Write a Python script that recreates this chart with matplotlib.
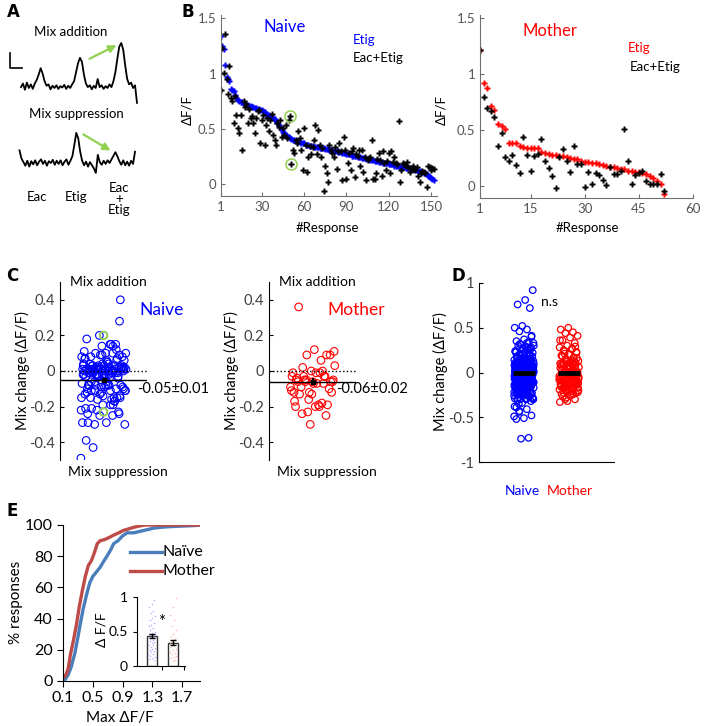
import matplotlib
matplotlib.use('Agg')
import matplotlib.pyplot as plt
from matplotlib.lines import Line2D

plt.rcParams['font.family'] = ['Lato', 'DejaVu Sans']
plt.rcParams['axes.unicode_minus'] = False

W, H = 718, 726

# ---- A: example traces (dF/F, scaled to the largest peak) ----
trace_add = [0.02, 0.10, -0.04, 0.12, 0.00, 0.08, -0.02, 0.10, 0.18, 0.30,
             0.44, 0.32, 0.15, 0.05, 0.08, -0.03, 0.05, 0.00, 0.06, -0.02,
             0.04, 0.01, 0.07, -0.02, 0.05, 0.00, 0.08, 0.15, 0.35, 0.55,
             0.67, 0.58, 0.30, 0.10, 0.02, 0.06, -0.03, 0.05, 0.00, 0.20,
             0.02, 0.06, -0.02, 0.04, 0.00, 0.08, 0.02, 0.15, 0.35, 0.65,
             0.92, 1.00, 0.85, 0.50, 0.20, 0.08, 0.12, 0.00, 0.06, -0.33]
trace_sup = [0.28, 0.10, 0.02, -0.06, 0.05, -0.08, 0.04, -0.03, 0.06, -0.05,
             0.03, 0.08, -0.02, 0.05, -0.06, 0.04, 0.00, 0.07, -0.04, 0.05,
             -0.02, 0.06, -0.05, 0.03, 0.08, -0.04, 0.05, 0.15, 0.40, 0.67,
             0.55, 0.25, 0.05, -0.05, 0.03, -0.08, 0.02, -0.05, -0.12, -0.22,
             0.18, 0.02, -0.04, 0.05, -0.02, 0.06, 0.00, 0.08, 0.16, 0.24,
             0.15, 0.04, -0.04, 0.06, -0.05, 0.03, -0.06, 0.05, -0.02, 0.25]

# ---- B: sorted Etig responses and Eac+Etig responses ----
naive_etig = [1.34, 1.25, 1.22, 1.08, 0.97, 0.95, 0.93, 0.86, 0.85, 0.84,
              0.81, 0.78, 0.76, 0.75, 0.74, 0.74, 0.73, 0.73, 0.72, 0.72,
              0.71, 0.71, 0.70, 0.70, 0.69, 0.69, 0.68, 0.68, 0.67, 0.67,
              0.66, 0.65, 0.64, 0.63, 0.63, 0.62, 0.61, 0.60, 0.59, 0.57,
              0.55, 0.54, 0.52, 0.49, 0.47, 0.46, 0.45, 0.44, 0.43, 0.42,
              0.41, 0.40, 0.40, 0.39, 0.39, 0.38, 0.38, 0.37, 0.37, 0.37,
              0.36, 0.36, 0.36, 0.35, 0.35, 0.35, 0.34, 0.34, 0.34, 0.34,
              0.33, 0.33, 0.33, 0.33, 0.32, 0.32, 0.32, 0.31, 0.31, 0.31,
              0.30, 0.30, 0.30, 0.29, 0.29, 0.29, 0.28, 0.28, 0.28, 0.27,
              0.27, 0.27, 0.27, 0.26, 0.26, 0.26, 0.26, 0.25, 0.25, 0.25,
              0.24, 0.24, 0.24, 0.23, 0.23, 0.23, 0.22, 0.22, 0.22, 0.21,
              0.21, 0.21, 0.20, 0.20, 0.20, 0.19, 0.19, 0.19, 0.19, 0.18,
              0.18, 0.18, 0.18, 0.17, 0.17, 0.17, 0.17, 0.16, 0.16, 0.16,
              0.16, 0.15, 0.15, 0.15, 0.15, 0.14, 0.14, 0.14, 0.13, 0.13,
              0.12, 0.12, 0.11, 0.11, 0.10, 0.10, 0.09, 0.08, 0.07, 0.06,
              0.05, 0.04]
naive_mix = [0.85, 1.23, 1.01, 1.36, 0.95, 0.82, 1.07, 0.78, 0.75, 0.55,
             0.80, 0.63, 0.51, 0.46, 0.63, 0.31, 0.75, 0.70, 0.73, 0.55,
             0.68, 0.60, 0.62, 0.55, 0.46, 0.60, 0.66, 0.67, 0.37, 0.58,
             0.63, 0.36, 0.54, 0.60, 0.48, 0.58, 0.64, 0.45, 0.40, 0.36,
             0.55, 0.52, 0.58, 0.43, 0.51, 0.45, 0.54, 0.42, 0.58, 0.62,
             0.18, 0.31, 0.28, 0.40, 0.37, 0.48, 0.42, 0.31, 0.13, 0.51,
             0.36, 0.11, 0.25, 0.35, 0.27, 0.34, 0.40, 0.54, 0.27, 0.49,
             0.36, 0.25, 0.33, -0.06, 0.17, 0.10, 0.02, 0.36, 0.31, 0.28,
             0.25, 0.34, 0.14, 0.30, 0.37, 0.30, 0.04, 0.43, 0.31, 0.05,
             0.19, 0.28, 0.13, 0.30, 0.33, 0.07, 0.27, 0.26, 0.31, 0.17,
             0.31, 0.11, 0.25, 0.04, 0.22, 0.24, 0.25, 0.40, 0.05, 0.05,
             0.10, 0.23, 0.28, 0.22, 0.08, 0.30, 0.19, 0.13, 0.21, 0.28,
             0.10, 0.30, 0.20, 0.25, 0.19, 0.18, 0.57, 0.02, 0.13, 0.19,
             0.18, 0.17, 0.20, 0.16, 0.11, 0.15, 0.17, 0.14, 0.13, 0.16,
             0.08, 0.02, 0.10, 0.12, 0.11, 0.10, -0.02, 0.17, 0.16, 0.13,
             0.15, 0.14]
naive_examples = [50, 51]  # responses circled in green (1-based)

mother_etig = [1.22, 0.92, 0.88, 0.72, 0.68, 0.56, 0.54, 0.51, 0.39, 0.39,
               0.39, 0.36, 0.35, 0.34, 0.34, 0.34, 0.34, 0.31, 0.30, 0.29,
               0.28, 0.28, 0.27, 0.27, 0.26, 0.25, 0.24, 0.24, 0.23, 0.22,
               0.22, 0.21, 0.21, 0.20, 0.19, 0.18, 0.17, 0.17, 0.16, 0.15,
               0.15, 0.14, 0.14, 0.13, 0.13, 0.12, 0.11, 0.09, 0.07, 0.05,
               0.02, -0.07]
mother_mix = [1.22, 0.80, 0.70, 0.67, 0.62, 0.36, 0.48, 0.26, 0.23, 0.28,
              0.19, 0.12, 0.44, 0.28, 0.14, 0.27, 0.29, 0.42, 0.23, 0.16,
              0.09, -0.02, 0.26, 0.33, 0.23, 0.13, 0.36, 0.20, 0.20, -0.01,
              0.13, 0.02, 0.12, 0.10, 0.06, 0.01, 0.17, 0.11, 0.11, 0.14,
              0.51, 0.23, 0.02, 0.10, 0.12, 0.14, 0.05, 0.02, 0.02, 0.02,
              0.11, -0.04]

# ---- C: mix change summary ----
naive_c_mean, naive_c_sem = -0.05, 0.01
mother_c_mean, mother_c_sem = -0.06, 0.02

# ---- D: all responses (C responses plus the other ones) ----
naive_d_other = [0.92, 0.81, 0.76, 0.72, 0.52, 0.50, 0.48, 0.46, 0.41, 0.37,
                 0.35, 0.34, 0.31, 0.33, 0.29, 0.30, 0.26, 0.27, 0.23, 0.25,
                 0.21, 0.18, 0.22, 0.16, 0.19, 0.12, 0.14, 0.09, 0.11, 0.06,
                 0.08, 0.03, 0.05, 0.01, 0.04, -0.02, 0.02, -0.04, 0.00, -0.07,
                 -0.03, -0.09, -0.05, -0.12, -0.08, -0.14, -0.11, -0.17, -0.13, -0.19,
                 -0.16, -0.22, -0.18, -0.25, -0.21, -0.28, -0.24, -0.31, -0.27, -0.34,
                 -0.38, -0.41, -0.44, -0.48, -0.51, -0.52, -0.73, -0.74, 0.13, 0.07,
                 0.10, 0.15, 0.20, 0.24, 0.28, 0.32, -0.01, -0.06, -0.10, -0.15,
                 -0.20, -0.26, -0.30, -0.35,
                 0.02, -0.05, 0.11, -0.13, 0.06, -0.02, 0.17, -0.09, 0.00, -0.19,
                 0.09, -0.06, 0.14, -0.11, 0.04, -0.15, 0.21, -0.03, 0.07, -0.24,
                 0.12, -0.08, 0.01, -0.17, 0.25, -0.01, 0.05, -0.12, 0.18, -0.27,
                 0.08, -0.04, 0.15, -0.21, 0.03, -0.10, 0.23, -0.07, 0.10, -0.29,
                 0.00, -0.14, 0.19, -0.02, 0.06, -0.18, 0.27, -0.06, 0.13, -0.23,
                 0.04, -0.11, 0.30, -0.03, 0.09, -0.32, 0.16, -0.08, 0.02, -0.16,
                 0.22, -0.05, 0.11, -0.20, 0.07, -0.13, 0.33, -0.01, 0.14, -0.26]
mother_d_other = [0.50, 0.48, 0.45, 0.44, 0.41, 0.39, 0.36, 0.33, 0.30, 0.28,
                  0.26, 0.24, 0.22, 0.20, 0.19, 0.17, 0.15, 0.13, 0.12, 0.10,
                  0.08, 0.06, 0.05, 0.03, 0.02, 0.00, -0.01, -0.03, -0.04, -0.06,
                  -0.08, -0.09, -0.11, -0.13, -0.14, -0.16, -0.18, -0.20, -0.22, -0.25,
                  -0.27, -0.30, -0.32, -0.33, 0.27, 0.21, 0.16, 0.11, 0.07, 0.01,
                  -0.02, -0.07, -0.12, -0.17, -0.23,
                  0.04, -0.06, 0.12, -0.14, 0.00, -0.03, 0.18, -0.10, 0.07, -0.19,
                  0.02, -0.08, 0.23, -0.01, 0.09, -0.24, 0.15, -0.12, 0.05, -0.05,
                  0.29, -0.16, 0.10, -0.21, 0.01, -0.09, 0.20, -0.02, 0.13, -0.28,
                  0.06, -0.11, 0.25, -0.04, 0.08, -0.15]
d_groups = ['Naive', 'Mother']
d_means = [0.0, -0.005]
d_sems = [0.01, 0.015]

# ---- E: cumulative distribution of max dF/F ----
naive_cdf_x = [0.10, 0.13, 0.17, 0.21, 0.26, 0.30, 0.33, 0.37, 0.42, 0.46,
               0.50, 0.55, 0.60, 0.65, 0.69, 0.74, 0.78, 0.84, 0.90, 0.96,
               1.05, 1.14, 1.23, 1.32, 1.41, 1.55, 1.70, 1.85, 1.95]
naive_cdf_y = [0, 1, 4, 9, 18, 28, 36, 46, 56, 63,
               67, 70, 73, 77, 80, 84, 88, 90, 93, 95,
               95, 96, 97, 98, 98.5, 99, 99.3, 99.6, 100]
mother_cdf_x = [0.10, 0.14, 0.17, 0.20, 0.24, 0.28, 0.32, 0.36, 0.40, 0.44,
                0.48, 0.52, 0.56, 0.60, 0.65, 0.72, 0.78, 0.85, 0.91, 0.98,
                1.05, 1.12, 1.20, 1.40, 1.95]
mother_cdf_y = [2, 4, 8, 17, 26, 36, 48, 58, 67, 74,
                77, 82, 88, 90, 90.5, 92, 93.5, 95, 96.5, 97.5,
                98.5, 99.3, 100, 100, 100]
inset_means = [0.44, 0.34]
inset_sems = [0.03, 0.03]
inset_naive_pts = [0.95, 0.90, 0.86, 0.80, 0.77, 0.72, 0.70, 0.66, 0.63, 0.60,
                   0.58, 0.55, 0.52, 0.50, 0.48, 0.46, 0.44, 0.42, 0.40, 0.38,
                   0.36, 0.35, 0.33, 0.31, 0.30, 0.28, 0.26, 0.25, 0.23, 0.22,
                   0.20, 0.18, 0.17, 0.15, 0.13, 0.12, 0.10, 0.08]
inset_mother_pts = [0.98, 0.85, 0.74, 0.66, 0.58, 0.52, 0.47, 0.43, 0.39, 0.36,
                    0.33, 0.30, 0.28, 0.25, 0.23, 0.21, 0.19, 0.17, 0.15, 0.13,
                    0.11, 0.09, 0.07]

BLUE, RED, GREEN = '#0000ff', '#ff0000', '#92d050'
GRAY = '#555555'

fig = plt.figure(figsize=(W / 100, H / 100), dpi=100)


def box(l, t, r, b):
    return fig.add_axes([l / W, 1 - b / H, (r - l) / W, (b - t) / H])


def ftext(x, y, s, **kw):
    kw.setdefault('ha', 'center')
    kw.setdefault('va', 'center')
    fig.text(x / W, 1 - y / H, s, **kw)


def spread(n, width, i0=0):
    # deterministic horizontal spread for overlapping points
    return [width * (((i + i0) * 0.6180339887) % 1 - 0.5) * 2 for i in range(n)]


# ---------------- A ----------------
axa = box(0, 0, 180, 230)
axa.set_xlim(0, 180)
axa.set_ylim(230, 0)
axa.axis('off')
n = len(trace_add)
axa.plot([21 + i * 116 / (n - 1) for i in range(n)], [88 - 45 * v for v in trace_add],
         color='k', lw=1.3)
n = len(trace_sup)
axa.plot([19.5 + i * 115.5 / (n - 1) for i in range(n)], [163 - 45 * v for v in trace_sup],
         color='k', lw=1.3)
axa.plot([10, 10, 22], [53, 68, 68], color='k', lw=1.2)
axa.annotate('', xy=(119, 44), xytext=(87, 60),
             arrowprops=dict(arrowstyle='-|>', color=GREEN, lw=1.6, mutation_scale=11))
axa.annotate('', xy=(113, 152), xytext=(81, 133),
             arrowprops=dict(arrowstyle='-|>', color=GREEN, lw=1.6, mutation_scale=11))
ftext(71, 32, 'Mix addition', fontsize=9.5)
ftext(76, 114, 'Mix suppression', fontsize=9.5)
ftext(37, 197, 'Eac', fontsize=9.5)
ftext(76, 197, 'Etig', fontsize=9.5)
ftext(119, 199, 'Eac\n+\nEtig', fontsize=9.5, linespacing=0.85)


def matlab_style(ax):
    for s in ['top', 'right']:
        ax.spines[s].set_visible(False)
    for s in ['left', 'bottom']:
        ax.spines[s].set_color('#707070')
        ax.spines[s].set_linewidth(0.8)
    ax.tick_params(direction='in', length=3, colors='#707070', labelcolor=GRAY,
                   labelsize=9.5, width=0.8)


# ---------------- B ----------------
axb1 = box(221, 15, 437, 196)
xs = list(range(1, len(naive_etig) + 1))
axb1.plot(xs, naive_etig, 'P', color=BLUE, ms=3.8, mec='none')
axb1.plot(xs, naive_mix, 'P', color='k', ms=3.8, mec='none')
for i in naive_examples:
    axb1.plot(i, naive_mix[i - 1], 'o', mfc='none', mec=GREEN, ms=8, mew=1.1)
axb1.set_xlim(1, 154.3)
axb1.set_ylim(-0.105, 1.53)
axb1.set_xticks([1, 30, 60, 90, 120, 150])
axb1.set_yticks([0, 0.5, 1, 1.5])
axb1.set_yticklabels(['0', '0.5', '1', '1.5'])
matlab_style(axb1)

axb2 = box(480, 15, 693, 198)
xs = list(range(1, len(mother_etig) + 1))
axb2.plot(xs, mother_etig, 'P', color=RED, ms=3.8, mec='none')
axb2.plot(xs, mother_mix, 'P', color='k', ms=3.8, mec='none')
axb2.set_xlim(1, 60)
axb2.set_ylim(-0.105, 1.53)
axb2.set_xticks([1, 15, 30, 45, 60])
axb2.set_yticks([0, 0.5, 1, 1.5])
axb2.set_yticklabels(['0', '0.5', '1', '1.5'])
matlab_style(axb2)

ftext(285, 27, 'Naive', fontsize=12, color=BLUE)
ftext(364, 40, 'Etig', fontsize=9.5, color=BLUE)
ftext(378, 58, 'Eac+Etig', fontsize=9.5)
ftext(550, 31, 'Mother', fontsize=12, color=RED)
ftext(639, 48, 'Etig', fontsize=9.5, color=RED)
ftext(655, 67, 'Eac+Etig', fontsize=9.5)
ftext(187, 110, 'ΔF/F', fontsize=9.5, rotation=90)
ftext(441, 110, 'ΔF/F', fontsize=9.5, rotation=90)
ftext(327, 228, '#Response', fontsize=9.5)
ftext(587, 228, '#Response', fontsize=9.5)

# ---------------- C ----------------
naive_change = [m - e for m, e in zip(naive_mix, naive_etig)]
mother_change = [m - e for m, e in zip(mother_mix, mother_etig)]


def change_panel(l, r, vals, color, mean, sem, name, name_x, stat_x, highlight=(), shift=0):
    ax = box(l, 282, r, 460)
    ax.set_xlim(0, 1)
    ax.set_ylim(-0.5, 0.5)
    jit = spread(len(vals), 0.26, shift)
    xs = [0.5 + j for j in jit]
    for i in highlight:
        xs[i - 1] = 0.5
    ax.scatter(xs, vals, s=30, facecolors='none', edgecolors=color, linewidths=0.8, zorder=2)
    for i in highlight:
        ax.scatter(xs[i - 1], vals[i - 1], s=30, facecolors='none', edgecolors=GREEN,
                   linewidths=1.3, zorder=3)
    ax.axhline(0, color='k', ls=':', lw=1)
    ax.axhline(mean, color='k', lw=1)
    ax.errorbar(0.5, mean, yerr=sem, fmt='s', color='k', ms=3.5, zorder=4)
    for s in ['top', 'right', 'bottom']:
        ax.spines[s].set_visible(False)
    ax.spines['left'].set_linewidth(0.8)
    ax.set_xticks([])
    ax.set_yticks([-0.4, -0.2, 0, 0.2, 0.4])
    ax.set_yticklabels(['-0.4', '-0.2', '0', '0.2', '0.4'])
    ax.tick_params(direction='in', length=3, labelsize=10.5, labelcolor='#404040')
    ftext(l + 10, 282, 'Mix addition', fontsize=10, ha='left')
    ftext(l + 8, 472, 'Mix suppression', fontsize=10, ha='left')
    ftext(name_x, 310, name, fontsize=12.5, color=color)
    ftext(stat_x, 389, '%.2f±%.2f' % (mean, sem), fontsize=10.5, ha='left')
    ftext(l - 38, 371, 'Mix change (ΔF/F)', fontsize=10.5, rotation=90)


change_panel(60, 147, naive_change, BLUE, naive_c_mean, naive_c_sem, 'Naive', 162, 137,
             naive_examples)
change_panel(269, 356, mother_change, RED, mother_c_mean, mother_c_sem, 'Mother', 356, 336,
             shift=4)

# ---------------- D ----------------
axd = box(479, 283, 614, 462)
axd.set_xlim(0, 3)
axd.set_ylim(-1, 1)
d_vals = [naive_change + naive_d_other, mother_change + mother_d_other]
for k, (vals, color) in enumerate(zip(d_vals, [BLUE, RED])):
    xs = [k + 1 + j for j in spread(len(vals), 0.22, k * 7)]
    axd.scatter(xs, vals, s=22, facecolors='none', edgecolors=color, linewidths=0.9)
    axd.plot([k + 1 - 0.24, k + 1 + 0.24], [d_means[k]] * 2, color='k', lw=3.5,
             solid_capstyle='butt')
    axd.errorbar(k + 1, d_means[k], yerr=d_sems[k], color='k', lw=1.2)
for s in ['top', 'right']:
    axd.spines[s].set_visible(False)
axd.set_xticks([])
axd.set_yticks([-1, -0.5, 0, 0.5, 1])
axd.set_yticklabels(['-1', '-0.5', '0', '0.5', '1'])
axd.tick_params(direction='in', length=3, labelsize=10.5, labelcolor='#404040')
ftext(522, 491, d_groups[0], fontsize=10, color=BLUE)
ftext(570, 491, d_groups[1], fontsize=10, color=RED)
ftext(550, 302, 'n.s', fontsize=10)
ftext(440, 372, 'Mix change (ΔF/F)', fontsize=10.5, rotation=90)

# ---------------- E ----------------
NBLUE, NRED = '#4a7ebb', '#be4b48'
axe = box(63, 525, 200, 681)
axe.plot(naive_cdf_x, naive_cdf_y, color=NBLUE, lw=2.4)
axe.plot(mother_cdf_x, mother_cdf_y, color=NRED, lw=2.4)
axe.set_xlim(0.1, 1.94)
axe.set_ylim(0, 100)
axe.set_xticks([0.1, 0.5, 0.9, 1.3, 1.7])
axe.set_yticks([0, 20, 40, 60, 80, 100])
for s in ['top', 'right']:
    axe.spines[s].set_visible(False)
axe.tick_params(direction='out', length=4, labelsize=11.5)
ftext(16, 602, '% responses', fontsize=11, rotation=90)
ftext(120, 718, 'Max ΔF/F', fontsize=11)
for y, c, lab in [(552, NBLUE, 'Naïve'), (571, NRED, 'Mother')]:
    fig.add_artist(Line2D([130 / W, 162 / W], [1 - y / H] * 2, color=c, lw=2.4))
    ftext(163, y, lab, fontsize=11.5, ha='left')

axi = box(137, 597, 185, 666)
axi.set_xlim(-0.71, 1.57)
axi.set_ylim(0, 1)
axi.bar([0, 1], inset_means, width=0.48, color='white', edgecolor='#333333', lw=1, zorder=1)
for k, (pts, c) in enumerate([(inset_naive_pts, '#8080ff'), (inset_mother_pts, '#ff8080')]):
    xs = [k + j for j in spread(len(pts), 0.17, 3)]
    axi.scatter(xs, pts, s=1.2, color=c, alpha=0.6, zorder=2, lw=0)
axi.errorbar([0, 1], inset_means, yerr=inset_sems, fmt='none', ecolor='k', capsize=2,
             lw=1, zorder=3)
for s in ['top', 'right']:
    axi.spines[s].set_visible(False)
axi.set_xticks([0.5, 1.5])
axi.set_xticklabels([])
axi.set_yticks([0, 0.5, 1])
axi.set_yticklabels(['0', '0.5', '1'])
axi.tick_params(direction='out', length=3, labelsize=10)
ftext(162, 622, '*', fontsize=12)
ftext(101, 630, 'Δ F/F', fontsize=10, rotation=90)

# panel letters
for x, y, s in [(13, 12, 'A'), (188, 12, 'B'), (12, 276, 'C'), (458, 276, 'D'), (12, 511, 'E')]:
    fig.text(x / W, 1 - y / H, s, fontsize=12, fontweight='bold', family='DejaVu Sans',
             ha='center', va='center')

fig.savefig('out.png', dpi=100)
